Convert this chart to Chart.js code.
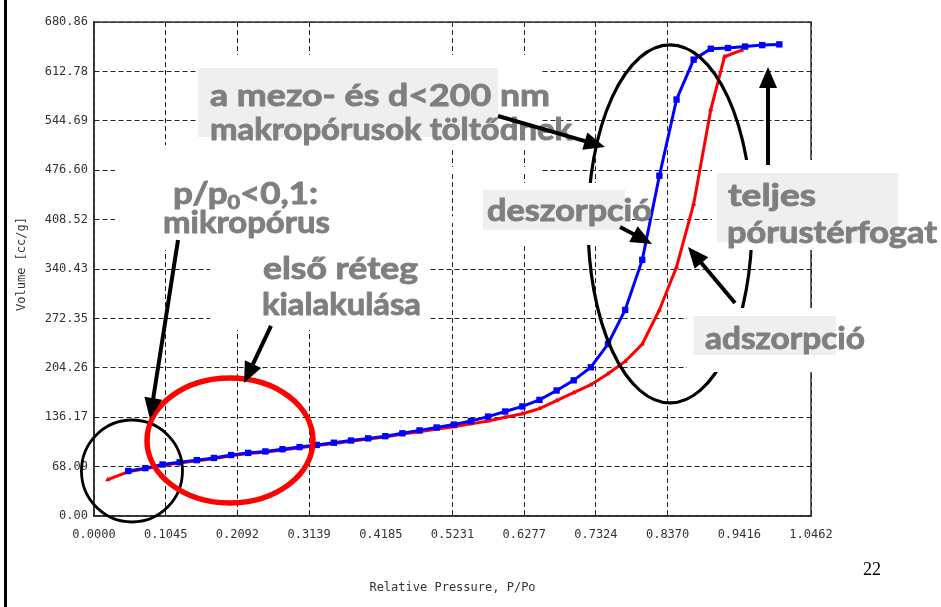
<!DOCTYPE html>
<html>
<head>
<meta charset="utf-8">
<script src="https://cdn.jsdelivr.net/npm/chart.js@4.4.1/dist/chart.umd.min.js"></script>
<style>
  html, body { margin: 0; padding: 0; background: #fff; }
  canvas { display: block; }
</style>
</head>
<body>
<canvas id="iso" width="941" height="607"></canvas>
<script>
// Nitrogen isotherm: desorption (blue) and adsorption (red) branches
const desorptionP = [0.050,0.075,0.100,0.125,0.150,0.175,0.200,0.225,0.250,0.275,0.300,0.325,0.350,0.375,0.400,0.425,0.450,0.475,0.500,0.525,0.550,0.575,0.600,0.625,0.650,0.675,0.700,0.725,0.750,0.775,0.800,0.825,0.850,0.875,0.900,0.925,0.950,0.975,1.000];
const desorptionV = [62,66,71,74,77,80,84,87,89,92,95,98,101,104,107,110,114,118,122,126,131,137,144,151,160,173,187,205,237,284,353,469,574,629,644,645,647,649,650];

const adsorptionP = [0.020,0.050,0.075,0.100,0.125,0.150,0.175,0.200,0.225,0.250,0.275,0.300,0.325,0.350,0.375,0.400,0.425,0.450,0.475,0.500,0.525,0.550,0.575,0.600,0.625,0.650,0.675,0.700,0.725,0.750,0.775,0.800,0.825,0.850,0.875,0.900,0.920,0.945];
const adsorptionV = [50,61,65,70,73,76,79,83,86,88,91,94,97,100,103,106,109,113,116,120,123,127,131,136,141,148,159,170,181,196,213,237,284,343,430,560,633,642];

const xTickValues = [0,0.10462,0.20924,0.31386,0.41848,0.5231,0.62772,0.73234,0.83696,0.94158,1.0462];
const xTickLabels = ['0.0000','0.1045','0.2092','0.3139','0.4185','0.5231','0.6277','0.7324','0.8370','0.9416','1.0462'];
const yTickValues = [0,68.086,136.172,204.258,272.344,340.43,408.516,476.602,544.688,612.774,680.86];
const yTickLabels = ['0.00','68.09','136.17','204.26','272.35','340.43','408.52','476.60','544.69','612.78','680.86'];

const xAxisTitle = 'Relative Pressure, P/Po';
const yAxisTitle = 'Volume [cc/g]';
const pageNumber = '22';

// vertical grid lines that are not drawn
const xGridOmitted = [0.41848, 0.94158];

// ---- overlay annotations, placed in data units (p/p0, cc/g) ----
const TXT_FONT = '"Comic Sans MS", "Lato", "Open Sans", sans-serif';
const TXT_COLOR = '#7f7f7f';
const BOX_COLOR = '#efefef';

// white cover boxes [x1, yTop, x2, yBottom]
const covers = [
  [0.1518, 635.4, 0.6508, 504.4],
  [0.0306, 511.3, 0.3662, 366.6],
  [0.1693, 366.6, 0.4903, 256.4],
  [0.5632, 459.0, 0.7850, 373.5],
  [0.9017, 490.7, 1.1834, 366.6],
  [0.8653, 286.7, 1.0914, 198.5],
  [0.3662, 481.0, 0.6508, 472.2],
  [0.3662, 412.9, 0.5676, 404.1]
];
// light grey label backgrounds
const greyBoxes = [
  [0.1518, 617.5, 0.5895, 522.4],
  [0.5676, 449.3, 0.7748, 394.2],
  [0.9090, 472.7, 1.1731, 377.6],
  [0.8745, 275.7, 1.0827, 221.9]
];
// labels: segments, baseline-left anchor, width in p/p0 units
const labels = [
  { segs: [{t: 'a mezo- és d<200 nm'}], x: 0.1693, y: 565.0, w: 0.4961 },
  { segs: [{t: 'makropórusok töltődnek'}], x: 0.1693, y: 518.2, w: 0.5282 },
  { segs: [{t: 'p/p'}, {t: '0', sub: true}, {t: '<0,1:'}], x: 0.1153, y: 430.0, w: 0.2116 },
  { segs: [{t: 'mikropórus'}], x: 0.1007, y: 390.0, w: 0.2437 },
  { segs: [{t: 'első réteg'}], x: 0.2466, y: 326.6, w: 0.2262 },
  { segs: [{t: 'kialakulása'}], x: 0.2451, y: 277.0, w: 0.2320 },
  { segs: [{t: 'deszorpció'}], x: 0.5734, y: 406.6, w: 0.2408 },
  { segs: [{t: 'teljes'}], x: 0.9251, y: 427.3, w: 0.1284 },
  { segs: [{t: 'pórustérfogat'}], x: 0.9236, y: 376.3, w: 0.3064 },
  { segs: [{t: 'adszorpció'}], x: 0.8915, y: 230.2, w: 0.2335 }
];
// highlight ellipses: centre, radii (data units)
const ellipses = [
  { cx: 0.0554, cy: 62.0, rx: 0.0737, ry: 70.3, color: '#000', width: 2.8 },
  { cx: 0.1984, cy: 104.1, rx: 0.1211, ry: 86.1, color: '#ff0000', width: 5.5 },
  { cx: 0.8405, cy: 402.5, rx: 0.1196, ry: 246.7, color: '#000', width: 3.2 }
];
// arrows: from -> tip
const arrows = [
  [0.1226, 380.4, 0.0817, 133.7],
  [0.2583, 261.9, 0.2189, 183.3],
  [0.5895, 551.3, 0.7456, 508.6],
  [0.7675, 398.3, 0.8142, 374.9],
  [0.9353, 293.6, 0.8667, 370.8],
  [0.9835, 483.8, 0.9835, 618.8]
];

const toPoints = (xs, ys) => xs.map((v, i) => ({ x: v, y: ys[i] }));

function drawLabel(ctx, segs, x, y, targetW, size) {
  const parts = segs.map(s => {
    const fs = s.sub ? size * 0.62 : size;
    ctx.font = `bold ${fs}px ${TXT_FONT}`;
    return { s, fs, w: ctx.measureText(s.t).width };
  });
  const total = parts.reduce((a, p) => a + p.w, 0);
  ctx.save();
  ctx.translate(x, y);
  ctx.scale(targetW / total, 1);
  ctx.fillStyle = TXT_COLOR;
  ctx.strokeStyle = TXT_COLOR;
  ctx.lineWidth = 0.9;
  ctx.lineJoin = 'round';
  ctx.textAlign = 'left';
  ctx.textBaseline = 'alphabetic';
  let cx = 0;
  for (const p of parts) {
    ctx.font = `bold ${p.fs}px ${TXT_FONT}`;
    const dy = p.s.sub ? size * 0.16 : 0;
    ctx.fillText(p.s.t, cx, dy);
    ctx.strokeText(p.s.t, cx, dy);
    cx += p.w;
  }
  ctx.restore();
}

function drawArrow(ctx, x1, y1, x2, y2) {
  const ang = Math.atan2(y2 - y1, x2 - x1);
  const L = 21, W = 9;
  const c = Math.cos(ang), s = Math.sin(ang);
  const bx = x2 - L * c, by = y2 - L * s;
  ctx.strokeStyle = '#000';
  ctx.lineWidth = 4;
  ctx.lineCap = 'butt';
  ctx.beginPath();
  ctx.moveTo(x1, y1);
  ctx.lineTo(bx + 2 * c, by + 2 * s);
  ctx.stroke();
  ctx.fillStyle = '#000';
  ctx.beginPath();
  ctx.moveTo(x2, y2);
  ctx.lineTo(bx + W * s, by - W * c);
  ctx.lineTo(bx - W * s, by + W * c);
  ctx.closePath();
  ctx.fill();
}

const overlayPlugin = {
  id: 'slideOverlay',
  afterDraw(chart) {
    const { ctx, chartArea: a } = chart;
    const xs = chart.scales.x, ys = chart.scales.y;
    const px = v => xs.getPixelForValue(v);
    const py = v => ys.getPixelForValue(v);
    ctx.save();

    // solid plot frame
    ctx.strokeStyle = '#333';
    ctx.lineWidth = 1.5;
    ctx.strokeRect(a.left, a.top, a.right - a.left, a.bottom - a.top);

    // highlight ellipses
    for (const e of ellipses) {
      ctx.beginPath();
      ctx.ellipse(px(e.cx), py(e.cy), px(e.cx + e.rx) - px(e.cx), py(e.cy) - py(e.cy + e.ry), 0, 0, Math.PI * 2);
      ctx.strokeStyle = e.color;
      ctx.lineWidth = e.width;
      ctx.stroke();
    }

    // white text frames, then grey label backgrounds
    ctx.fillStyle = '#fff';
    for (const r of covers) ctx.fillRect(px(r[0]), py(r[1]), px(r[2]) - px(r[0]), py(r[3]) - py(r[1]));
    ctx.fillStyle = BOX_COLOR;
    for (const r of greyBoxes) ctx.fillRect(px(r[0]), py(r[1]), px(r[2]) - px(r[0]), py(r[3]) - py(r[1]));

    // label texts
    for (const l of labels) {
      drawLabel(ctx, l.segs, px(l.x), py(l.y), px(l.x + l.w) - px(l.x), 30);
    }

    // arrows
    for (const r of arrows) drawArrow(ctx, px(r[0]), py(r[1]), px(r[2]), py(r[3]));

    // axis titles
    ctx.fillStyle = '#333';
    ctx.font = '12px "DejaVu Sans Mono", monospace';
    ctx.textAlign = 'center';
    ctx.textBaseline = 'middle';
    ctx.fillText(xAxisTitle, (a.left + a.right) / 2, 588);
    ctx.save();
    ctx.translate(22, 264);
    ctx.rotate(-Math.PI / 2);
    ctx.fillText(yAxisTitle, 0, 0);
    ctx.restore();

    // slide page number and left edge rule
    ctx.fillStyle = '#000';
    ctx.font = '18px "Liberation Serif", "Times New Roman", serif';
    ctx.textAlign = 'left';
    ctx.textBaseline = 'alphabetic';
    ctx.fillText(pageNumber, 863, 575);
    ctx.fillRect(4, 0, 3, chart.height);

    ctx.restore();
  }
};

const isOmitted = v => xGridOmitted.some(g => Math.abs(g - v) < 1e-6);

new Chart(document.getElementById('iso'), {
  type: 'line',
  data: {
    datasets: [
      {
        label: 'deszorpció',
        data: toPoints(desorptionP, desorptionV),
        borderColor: '#0000ff',
        backgroundColor: '#0000ff',
        borderWidth: 3,
        pointStyle: 'rect',
        pointRadius: 4.5,
        pointBorderWidth: 0,
        tension: 0,
        order: 0
      },
      {
        label: 'adszorpció',
        data: toPoints(adsorptionP, adsorptionV),
        borderColor: '#ff0000',
        backgroundColor: '#ff0000',
        borderWidth: 3,
        pointStyle: 'triangle',
        pointRadius: 3,
        pointBorderWidth: 0,
        tension: 0,
        order: 1
      }
    ]
  },
  options: {
    responsive: false,
    animation: false,
    events: [],
    layout: { padding: { top: 22, right: 130, left: 0, bottom: 0 } },
    plugins: { legend: { display: false }, tooltip: { enabled: false } },
    scales: {
      x: {
        type: 'linear',
        min: 0,
        max: 1.0462,
        afterBuildTicks: s => { s.ticks = xTickValues.map(v => ({ value: v })); },
        afterFit: s => { s.height = 91; },
        ticks: {
          autoSkip: false,
          maxRotation: 0,
          padding: 12,
          color: '#333',
          font: { family: '"DejaVu Sans Mono", monospace', size: 12 },
          callback: (v, i) => xTickLabels[i]
        },
        grid: {
          drawTicks: false,
          lineWidth: c => (c.tick && isOmitted(c.tick.value)) ? 0 : 1,
          color: c => (c.tick && isOmitted(c.tick.value)) ? 'rgba(0,0,0,0)' : '#222'
        },
        border: { display: true, color: '#333', width: 1.5, dash: [5, 3] }
      },
      y: {
        type: 'linear',
        min: 0,
        max: 680.86,
        afterBuildTicks: s => { s.ticks = yTickValues.map(v => ({ value: v })); },
        afterFit: s => { s.width = 94; },
        ticks: {
          autoSkip: false,
          padding: 6,
          color: '#333',
          font: { family: '"DejaVu Sans Mono", monospace', size: 12 },
          callback: (v, i) => yTickLabels[i]
        },
        grid: { drawTicks: false, lineWidth: 1, color: '#222' },
        border: { display: true, color: '#333', width: 1.5, dash: [5, 3] }
      }
    }
  },
  plugins: [overlayPlugin]
});
</script>
</body>
</html>
